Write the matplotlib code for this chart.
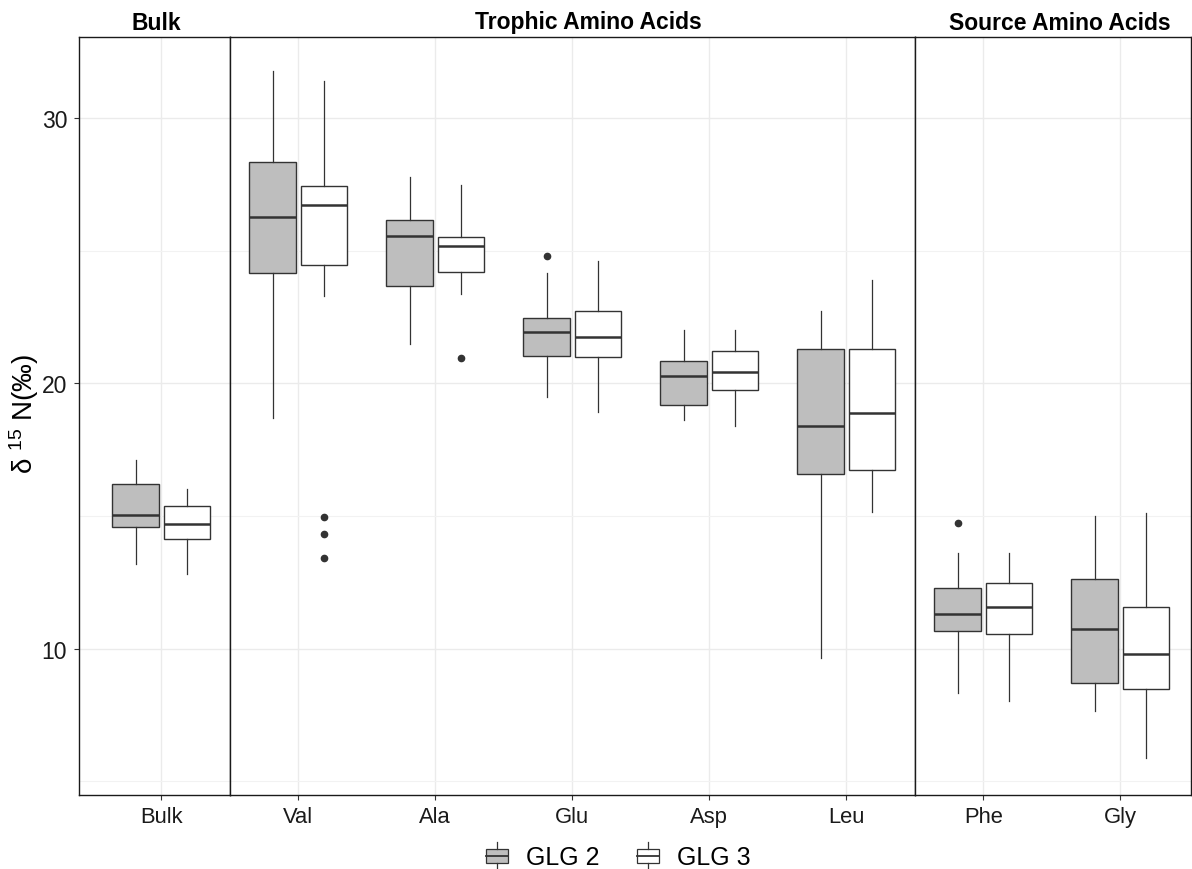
import matplotlib
matplotlib.use("Agg")
import matplotlib.pyplot as plt
from matplotlib.legend_handler import HandlerBase
from matplotlib.patches import Rectangle, Patch
from matplotlib.lines import Line2D

plt.rcParams['font.family'] = ['Liberation Sans', 'DejaVu Sans']
plt.rcParams['mathtext.default'] = 'regular'

# facets and categories
facets = ["Bulk", "Trophic Amino Acids", "Source Amino Acids"]
facet_cats = [["Bulk"], ["Val", "Ala", "Glu", "Asp", "Leu"], ["Phe", "Gly"]]
categories = ["Bulk", "Val", "Ala", "Glu", "Asp", "Leu", "Phe", "Gly"]

# GLG 2 box stats
glg2_low = [13.20, 18.70, 21.49, 19.47, 18.63, 9.66, 8.33, 7.65]
glg2_q1 = [14.60, 24.14, 23.68, 21.04, 19.19, 16.58, 10.65, 8.72]
glg2_med = [15.05, 26.26, 25.54, 21.94, 20.26, 18.40, 11.32, 10.75]
glg2_q3 = [16.20, 28.34, 26.16, 22.45, 20.82, 21.29, 12.30, 12.64]
glg2_high = [17.09, 31.76, 27.77, 24.15, 22.00, 22.72, 13.60, 14.98]
glg2_out = [[], [], [], [24.78], [], [], [14.73], []]

# GLG 3 box stats
glg3_low = [12.82, 23.30, 23.37, 18.91, 18.37, 15.13, 8.03, 5.86]
glg3_q1 = [14.14, 24.44, 24.19, 20.99, 19.73, 16.74, 10.56, 8.47]
glg3_med = [14.71, 26.72, 25.17, 21.73, 20.42, 18.86, 11.56, 9.79]
glg3_q3 = [15.36, 27.45, 25.53, 22.71, 21.20, 21.29, 12.46, 11.57]
glg3_high = [16.00, 31.38, 27.46, 24.60, 22.00, 23.90, 13.60, 15.11]
glg3_out = [[], [14.97, 14.31, 13.43], [20.95], [], [], [], [], []]

groups = ["GLG 2", "GLG 3"]
fills = ["#BEBEBE", "#FFFFFF"]
edge = "#333333"


def stats(low, q1, med, q3, high, out, i):
    return dict(whislo=low[i], q1=q1[i], med=med[i], q3=q3[i],
                whishi=high[i], fliers=out[i])


all_stats = [
    [stats(glg2_low, glg2_q1, glg2_med, glg2_q3, glg2_high, glg2_out, i) for i in range(len(categories))],
    [stats(glg3_low, glg3_q1, glg3_med, glg3_q3, glg3_high, glg3_out, i) for i in range(len(categories))],
]

fig = plt.figure(figsize=(11.92, 8.70), dpi=100)

W, H = 1192.0, 870.0
left_px, top_px, bottom_px = 79.0, 38.0, 795.5
unit = 137.0
xlims = [(-0.6, 0.5), (-0.5, 4.5), (-0.5, 1.52)]
title_x = [0.51, 0.523, 0.523]

x0 = left_px
idx = 0
axes = []
for f, (name, cats) in enumerate(zip(facets, facet_cats)):
    lo, hi = xlims[f]
    wpx = (hi - lo) * unit
    ax = fig.add_axes([x0 / W, 1 - bottom_px / H, wpx / W, (bottom_px - top_px) / H])
    x0 += wpx
    axes.append(ax)
    pos = list(range(len(cats)))
    for g in range(2):
        st = all_stats[g][idx:idx + len(cats)]
        offs = [p + (-0.1875 if g == 0 else 0.1875) for p in pos]
        ax.bxp(st, positions=offs, widths=0.3375, patch_artist=True,
               showcaps=False,
               boxprops=dict(facecolor=fills[g], edgecolor=edge, linewidth=1.0),
               medianprops=dict(color=edge, linewidth=1.8),
               whiskerprops=dict(color=edge, linewidth=0.9),
               flierprops=dict(marker='o', markersize=4.5, markerfacecolor=edge,
                               markeredgecolor=edge))
    idx += len(cats)
    ax.set_xlim(lo, hi)
    ax.set_ylim(4.5, 33.05)
    ax.set_xticks(pos)
    ax.set_xticklabels(cats, fontsize=15.8, color="#1a1a1a")
    ax.set_yticks([10, 20, 30])
    ax.set_yticks([5, 15, 25], minor=True)
    ax.grid(True, which='major', color="#EBEBEB", linewidth=1.0)
    ax.grid(True, which='minor', axis='y', color="#F2F2F2", linewidth=0.8)
    ax.set_axisbelow(True)
    ax.tick_params(axis='both', which='major', length=3.5, width=0.8, color="#333333", pad=5)
    ax.tick_params(axis='y', which='minor', length=0)
    for s in ax.spines.values():
        s.set_color("#1a1a1a")
        s.set_linewidth(1.0)
    if f == 0:
        ax.set_yticklabels(["10", "20", "30"], fontsize=16.5, color="#1a1a1a")
    else:
        ax.tick_params(axis='y', which='major', left=False, labelleft=False)
    ax.text(title_x[f], 1 + 15 / (bottom_px - top_px), name, transform=ax.transAxes,
            ha='center', va='center', fontsize=16.5, fontweight='bold')

fig.text(24 / W, 1 - 414 / H, "δ $^{15}$ N(‰)", rotation=90, ha='center', va='center',
         fontsize=20)


class BoxHandler(HandlerBase):
    def create_artists(self, legend, orig_handle, xdescent, ydescent,
                       width, height, fontsize, trans):
        fc = orig_handle.get_facecolor()
        x = -xdescent
        y = -ydescent
        cx = x + width / 2
        rect = Rectangle((x, y + 0.18 * height), width, 0.64 * height,
                         facecolor=fc, edgecolor=edge, linewidth=0.9, transform=trans)
        med = Line2D([x, x + width], [y + 0.5 * height] * 2, color=edge,
                     linewidth=1.3, transform=trans)
        w1 = Line2D([cx, cx], [y - 0.1 * height, y + 0.18 * height], color=edge,
                    linewidth=0.9, transform=trans)
        w2 = Line2D([cx, cx], [y + 0.82 * height, y + 1.1 * height], color=edge,
                    linewidth=0.9, transform=trans)
        return [rect, med, w1, w2]


handles = [Patch(facecolor=fills[0]), Patch(facecolor=fills[1])]
fig.legend(handles, groups, loc='center', bbox_to_anchor=(618 / W, 1 - 858 / H),
           ncol=2, frameon=False, fontsize=18, handlelength=0.9, handleheight=1.0,
           handletextpad=0.7, columnspacing=1.5,
           handler_map={Patch: BoxHandler()})

fig.savefig("out.png", dpi=100)
